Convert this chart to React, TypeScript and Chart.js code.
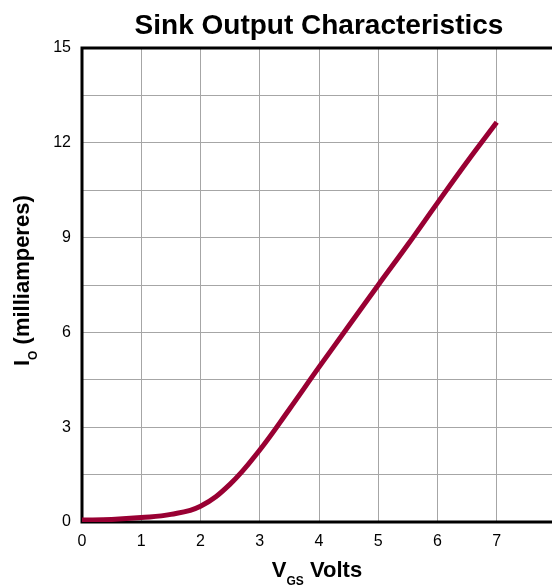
import React, { useEffect, useRef } from "react";
import { Chart, registerables } from "chart.js";

Chart.register(...registerables);

const vgsVolts: number[] = [0, 0.5, 1, 1.5, 2, 2.5, 3, 3.5, 4, 4.5, 5, 5.5, 6, 6.5, 7];
const ioMilliamps: number[] = [0.06, 0.08, 0.14, 0.24, 0.5, 1.2, 2.28, 3.57, 4.9, 6.2, 7.5, 8.78, 10.1, 11.4, 12.65];
const xTickValues: number[] = [0, 1, 2, 3, 4, 5, 6, 7, 8];
const yLabelValues: number[] = [0, 3, 6, 9, 12, 15];

const titleText = "Sink Output Characteristics";
const xTitleMain = "V";
const xTitleSub = "GS";
const xTitleRest = " Volts";
const yTitleMain = "I";
const yTitleSub = "O";
const yTitleRest = " (milliamperes)";

const FONT = "'Liberation Sans', Arial, Helvetica, sans-serif";
const W = 600;
const H = 587;

export default function App() {
  const ref = useRef<HTMLCanvasElement | null>(null);

  useEffect(() => {
    const canvas = ref.current;
    if (!canvas) return;

    const framePlugin = {
      id: "frameAndTitles",
      beforeDatasetsDraw(chart: any) {
        const { ctx, chartArea } = chart;
        const { left, top, right, bottom } = chartArea;
        ctx.save();
        ctx.strokeStyle = "#000";
        ctx.lineWidth = 3;
        ctx.beginPath();
        ctx.moveTo(left, top);
        ctx.lineTo(right + 1.5, top);
        ctx.moveTo(left, top - 1.5);
        ctx.lineTo(left, bottom + 1.5);
        ctx.moveTo(left - 1.5, bottom);
        ctx.lineTo(right + 1.5, bottom);
        ctx.moveTo(right, top);
        ctx.lineTo(right, bottom);
        ctx.stroke();
        ctx.restore();
      },
      afterDraw(chart: any) {
        const { ctx, chartArea } = chart;
        const cx = (chartArea.left + chartArea.right) / 2;
        ctx.save();
        ctx.fillStyle = "#000";
        ctx.textBaseline = "alphabetic";
        // main title
        ctx.font = `bold 28px ${FONT}`;
        ctx.textAlign = "center";
        ctx.fillText(titleText, cx, 34);

        // x title
        ctx.textAlign = "left";
        ctx.font = `bold 22px ${FONT}`;
        const w1 = ctx.measureText(xTitleMain).width;
        const w3 = ctx.measureText(xTitleRest).width;
        ctx.font = `bold 12px ${FONT}`;
        const w2 = ctx.measureText(xTitleSub).width;
        const total = w1 + w2 + w3;
        const x0 = cx - 2 - total / 2;
        const base = 577;
        ctx.font = `bold 22px ${FONT}`;
        ctx.fillText(xTitleMain, x0, base);
        ctx.font = `bold 12px ${FONT}`;
        ctx.fillText(xTitleSub, x0 + w1, base + 8);
        ctx.font = `bold 22px ${FONT}`;
        ctx.fillText(xTitleRest, x0 + w1 + w2, base);

        // y title (rotated)
        ctx.translate(29, 366);
        ctx.rotate(-Math.PI / 2);
        ctx.font = `bold 22px ${FONT}`;
        const yw1 = ctx.measureText(yTitleMain).width;
        ctx.fillText(yTitleMain, 0, 0);
        ctx.font = `bold 12px ${FONT}`;
        const yw2 = ctx.measureText(yTitleSub).width;
        ctx.fillText(yTitleSub, yw1, 8);
        ctx.font = `bold 22px ${FONT}`;
        ctx.fillText(yTitleRest, yw1 + yw2, 0);
        ctx.restore();
      },
    };

    const chart = new Chart(canvas, {
      type: "line",
      data: {
        datasets: [
          {
            data: vgsVolts.map((x, i) => ({ x, y: ioMilliamps[i] })),
            borderColor: "#990033",
            borderWidth: 5,
            pointRadius: 0,
            fill: false,
            tension: 0.4,
            borderCapStyle: "butt",
          },
        ],
      },
      options: {
        responsive: false,
        animation: false,
        devicePixelRatio: 1,
        layout: { padding: { top: 48, right: W - 556, left: 0, bottom: 0 } },
        plugins: {
          legend: { display: false },
          title: { display: false },
          tooltip: { enabled: false },
        },
        scales: {
          x: {
            type: "linear",
            min: xTickValues[0],
            max: xTickValues[xTickValues.length - 1],
            afterBuildTicks: (scale: any) => {
              scale.ticks = xTickValues.map((v) => ({ value: v }));
            },
            ticks: {
              color: "#000",
              font: { family: FONT, size: 16 },
              padding: 10,
              maxRotation: 0,
              autoSkip: false,
            },
            grid: { color: "#a6a6a6", lineWidth: 1, drawTicks: false },
            border: { display: false },
            afterFit: (scale: any) => {
              scale.height = H - 522;
            },
          },
          y: {
            type: "linear",
            min: 0,
            max: 15,
            ticks: {
              stepSize: 1.5,
              color: "#000",
              font: { family: FONT, size: 16 },
              padding: 11,
              autoSkip: false,
              callback: (v: any) => (yLabelValues.includes(Number(v)) ? String(v) : ""),
            },
            grid: { color: "#a6a6a6", lineWidth: 1, drawTicks: false },
            border: { display: false },
            afterFit: (scale: any) => {
              scale.width = 82;
            },
          },
        },
      },
      plugins: [framePlugin],
    } as any);

    return () => {
      chart.destroy();
    };
  }, []);

  return (
    <div
      style={{
        position: "fixed",
        left: 0,
        top: 0,
        width: 552,
        height: 587,
        overflow: "hidden",
        background: "#fff",
      }}
    >
      <canvas
        ref={ref}
        width={W}
        height={H}
        style={{ position: "absolute", left: 0, top: 0, width: W, height: H }}
      />
    </div>
  );
}
